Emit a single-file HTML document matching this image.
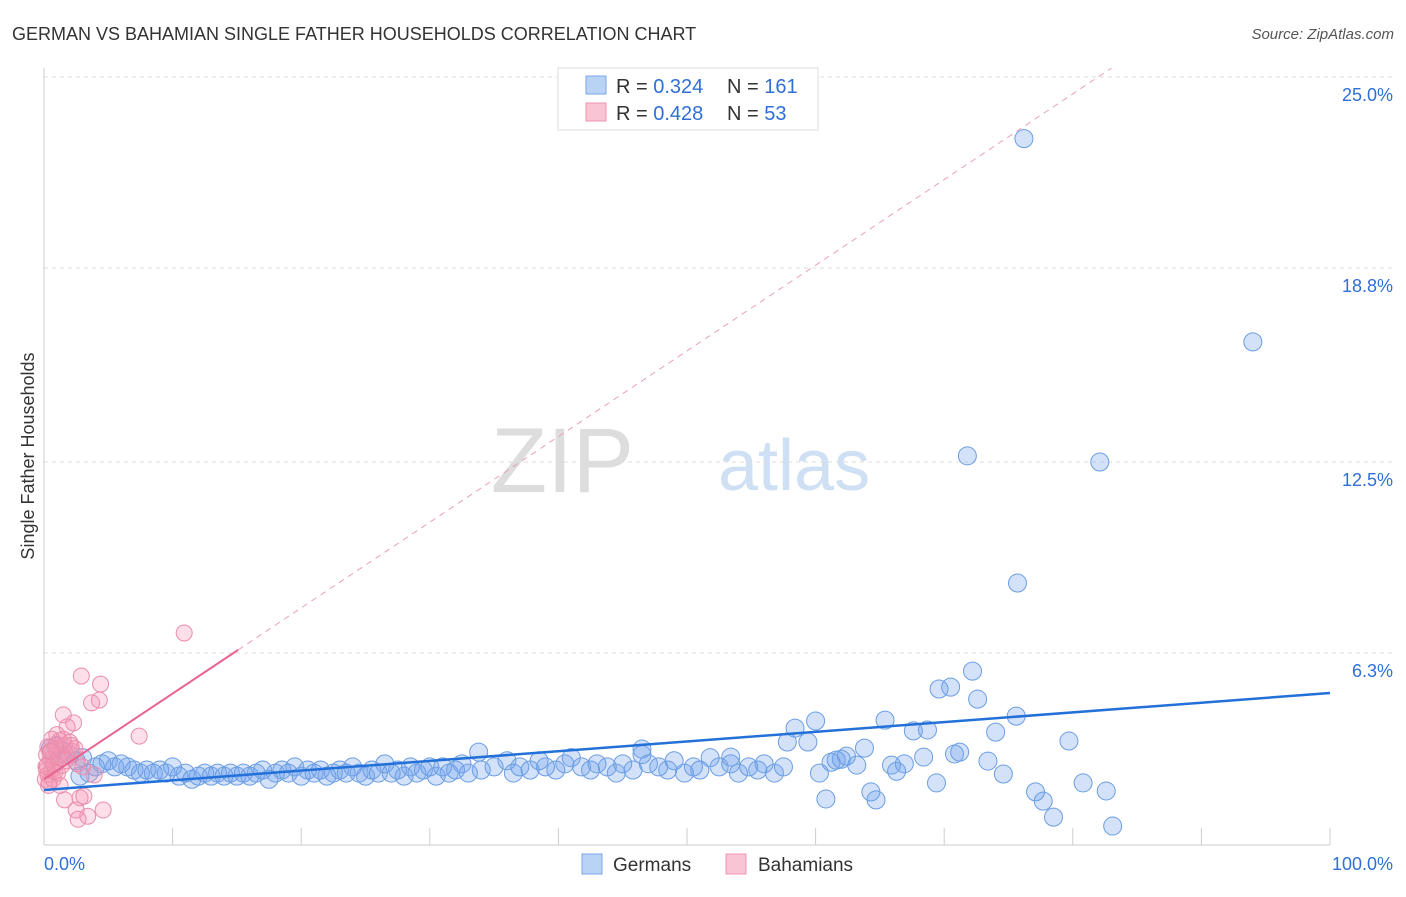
<!DOCTYPE html>
<html><head><meta charset="utf-8"><style>
body{margin:0;background:#fff;font-family:"Liberation Sans",sans-serif}
svg text{font-family:"Liberation Sans",sans-serif}
</style></head><body>
<svg id="c" width="1406" height="892">
<text x="12" y="40" font-size="18" fill="#333">GERMAN VS BAHAMIAN SINGLE FATHER HOUSEHOLDS CORRELATION CHART</text>
<text x="1394" y="39" font-size="15" fill="#555" text-anchor="end" font-style="italic">Source: ZipAtlas.com</text>
<text x="634" y="492" font-size="92" fill="#ddd" text-anchor="end" font-family="Liberation Serif">ZIP</text>
<text x="718" y="490" font-size="72" fill="#cfe0f4">atlas</text>
<text transform="translate(34,456) rotate(-90)" font-size="18" fill="#333" text-anchor="middle">Single Father Households</text>
<g id="grid"></g><g id="marks"></g>
<g>
<rect x="558" y="68" width="260" height="62" fill="#fff" stroke="#ddd"/>
<rect x="586" y="76" width="20" height="18" fill="#b9d3f5" stroke="#7aa6e6"/>
<rect x="586" y="103" width="20" height="18" fill="#f9c5d4" stroke="#ec94b0"/>
<text x="616" y="93" font-size="20" fill="#333">R = <tspan fill="#2f6fd6">0.324</tspan></text>
<text x="727" y="93" font-size="20" fill="#333">N = <tspan fill="#2f6fd6">161</tspan></text>
<text x="616" y="120" font-size="20" fill="#333">R = <tspan fill="#2f6fd6">0.428</tspan></text>
<text x="727" y="120" font-size="20" fill="#333">N = <tspan fill="#2f6fd6"> 53</tspan></text>
</g>
<g>
<rect x="582" y="854" width="20" height="20" fill="#b9d3f5" stroke="#7aa6e6"/>
<text x="613" y="871" font-size="19" fill="#333">Germans</text>
<rect x="726" y="854" width="20" height="20" fill="#f9c5d4" stroke="#ec94b0"/>
<text x="758" y="871" font-size="19" fill="#333">Bahamians</text>
</g>
</svg>
<script>
const yTicks=[6.3,12.5,18.8,25.0];
const xTickLabels=["0.0%","100.0%"];
const germanX=[0.5,1,1.5,2,2.5,3,3.5,4,4.5,5,5.5,6,6.5,7,7.5,8,8.5,9,9.5,10,10.5,11,11.5,12,12.5,13,13.5,14,14.5,15,15.5,16,16.5,17,17.5,18,18.5,19,19.5,20,20.5,21,21.5,22,22.5,23,23.5,24,24.5,25,25.5,26,26.5,27,27.5,28,28.5,29,29.5,30,30.5,31,31.5,32,32.5,33,34,35,
36,36.5,37,37.8,38.5,39,39.8,40.5,41,41.8,42.5,43,43.8,44.5,45,45.8,46.5,47,47.8,48.5,49,49.8,50.5,51,51.8,52.5,53.4,54,54.8,55.5,56,56.8,57.5,
76.2,94.0,71.8,82.1,75.7,72.2,69.6,70.5,72.6,75.6,65.4,60.0,58.4,67.6,68.7,74.0,79.7,59.4,57.8,63.8,46.5,33.8,70.8,71.2,62.4,68.4,53.4,73.4,65.9,63.2,61.6,66.9,74.6,60.3,66.3,69.4,80.8,77.1,64.3,82.6,60.8,64.7,77.7,78.5,83.1,61.2,62.0,0.8,2.8];
const germanY=[3.2,3.3,3.1,3.0,2.8,2.9,2.4,2.6,2.7,2.8,2.6,2.7,2.6,2.5,2.4,2.5,2.4,2.5,2.4,2.6,2.3,2.4,2.2,2.3,2.4,2.3,2.4,2.3,2.4,2.3,2.4,2.3,2.4,2.5,2.2,2.4,2.5,2.4,2.6,2.3,2.5,2.4,2.5,2.3,2.4,2.5,2.4,2.6,2.4,2.3,2.5,2.4,2.7,2.4,2.5,2.3,2.6,2.4,2.5,2.6,2.3,2.6,2.4,2.5,2.7,2.4,2.5,2.6,
2.8,2.4,2.6,2.5,2.8,2.6,2.5,2.7,2.9,2.6,2.5,2.7,2.6,2.4,2.7,2.5,3.0,2.7,2.6,2.5,2.8,2.4,2.6,2.5,2.9,2.6,2.7,2.4,2.6,2.5,2.7,2.4,2.6,
23.0,16.4,12.7,12.5,8.57,5.71,5.13,5.19,4.8,4.25,4.12,4.09,3.86,3.77,3.8,3.73,3.44,3.41,3.41,3.21,3.18,3.08,3.02,3.08,2.95,2.92,2.92,2.79,2.66,2.66,2.82,2.7,2.37,2.4,2.46,2.08,2.08,1.79,1.79,1.82,1.56,1.53,1.49,0.97,0.68,2.75,2.85,2.7,2.3];
const bahX=[10.9,2.9,4.4,4.3,3.7,1.5,2.3,1.8,7.4,1.0,0.6,1.2,0.3,0.9,1.6,2.0,0.2,0.5,1.1,0.25,0.6,0.3,0.85,0.1,1.4,1.9,2.2,3.9,1.6,2.8,3.1,2.5,3.4,4.6,2.65,1.25,0.4,0.7,1.3,2.4,0.15,0.75,1.7,2.1,0.45,1.05,2.6,0.35,1.5,0.2,0.9,3.0,0.55];
const bahY=[6.95,5.55,5.29,4.77,4.68,4.29,4.03,3.9,3.6,3.65,3.5,3.45,3.25,3.2,3.3,3.4,3.0,2.85,2.9,2.65,2.5,2.35,2.45,2.2,2.65,2.95,3.1,2.34,1.53,1.6,1.65,1.2,1.0,1.2,0.9,2.0,2.1,2.2,3.0,3.2,2.6,2.7,2.8,3.3,3.1,2.4,2.7,2.0,3.5,2.5,3.3,2.6,3.1];
const germanFit=[1.85,5.0];
const bahFit=[2.2,6.4];
const X=v=>44+v*12.86, Y=v=>847-v*30.8;
const NS="http://www.w3.org/2000/svg";
const grid=document.getElementById('grid'), marks=document.getElementById('marks');
function mk(tag,attrs,parent){const e=document.createElementNS(NS,tag);for(const k in attrs)e.setAttribute(k,attrs[k]);parent.appendChild(e);return e;}
yTicks.forEach(t=>{
 const l=mk('line',{x1:44,x2:1394,y1:Y(t),y2:Y(t),stroke:'#ddd','stroke-dasharray':'4,4'},grid);
 
 
 const tx=mk('text',{x:1393,y:Y(t)+24,'font-size':18,fill:'#2f6fd6','text-anchor':'end'},grid);
 tx.textContent=t.toFixed(1)+'%';
 
 
});
const ax=mk('line',{x1:44,x2:44,y1:68,y2:845,stroke:'#ccc'},grid);


const bx=mk('line',{x1:44,x2:1330,y1:845,y2:845,stroke:'#ccc'},grid);


for(let i=1;i<=10;i++){
 const t=mk('line',{x1:X(i*10),x2:X(i*10),y1:828,y2:845,stroke:'#ccc'},grid);
 
 
}
[[0,44,'start'],[100,1393,'end']].forEach((p,i)=>{
 const t=mk('text',{x:p[1],y:870,'font-size':18,fill:'#2f6fd6','text-anchor':p[2]},grid);
 t.textContent=xTickLabels[i];
 
 
});
germanX.forEach((x,i)=>{
 const c=mk('circle',{cx:X(x),cy:Y(germanY[i]),r:9,fill:'rgba(110,160,235,0.3)',stroke:'#6b9ee3','stroke-width':1},marks);
 
 
});
bahX.forEach((x,i)=>{
 const c=mk('circle',{cx:X(x),cy:Y(bahY[i]),r:8,fill:'rgba(245,150,180,0.3)',stroke:'#ea8dab','stroke-width':1},marks);
 
 
});
const gl=mk('line',{x1:X(0),y1:Y(germanFit[0]),x2:X(100),y2:Y(germanFit[1]),stroke:'#2270d8','stroke-width':2.5},marks);


const slope=(bahFit[1]-bahFit[0])/15.1;
const bl=mk('line',{x1:X(0),y1:Y(bahFit[0]),x2:X(15.1),y2:Y(bahFit[1]),stroke:'#e8648f','stroke-width':2},marks);


const bd=mk('line',{x1:X(15.1),y1:Y(bahFit[1]),x2:X(83),y2:Y(bahFit[0]+slope*83),stroke:'#eaa0b8','stroke-width':1,'stroke-dasharray':'6,5'},marks);


</script>
</body></html>
